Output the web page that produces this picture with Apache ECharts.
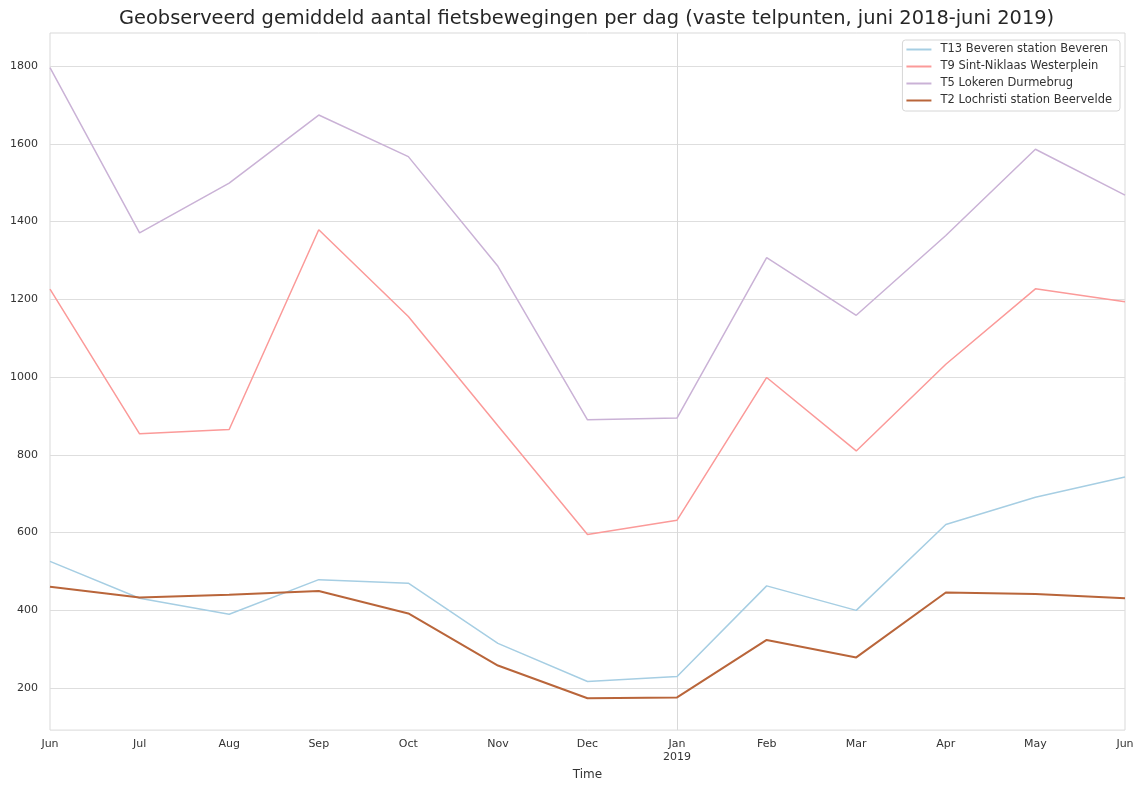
<!DOCTYPE html>
<html>
<head>
<meta charset="utf-8">
<title>fietsbewegingen</title>
<script src="https://cdn.jsdelivr.net/npm/echarts@6/dist/echarts.min.js"></script>
<style>
  html, body { margin: 0; padding: 0; background: #fff; }
  #main { width: 1137px; height: 786px; }
</style>
</head>
<body>
<div id="main"></div>
<script>
/* gemiddeld aantal fietsbewegingen per dag, juni 2018 - juni 2019 */
var months = ['Jun', 'Jul', 'Aug', 'Sep', 'Oct', 'Nov', 'Dec', 'Jan\n2019', 'Feb', 'Mar', 'Apr', 'May', 'Jun'];
var yTicks = [200, 400, 600, 800, 1000, 1200, 1400, 1600, 1800];

var t13 = [526, 431, 390, 479, 470, 315, 217, 230, 463, 400, 621, 691, 743];
var t9  = [1226, 854, 865, 1379, 1156, 875, 595, 632, 999, 810, 1033, 1227, 1194];
var t5  = [1796, 1371, 1499, 1674, 1567, 1285, 890, 895, 1307, 1159, 1364, 1586, 1468];
var t2  = [461, 433, 440, 450, 392, 258, 174, 176, 324, 279, 446, 442, 431];

var names = ['T13 Beveren station Beveren', 'T9 Sint-Niklaas Westerplein', 'T5 Lokeren Durmebrug', 'T2 Lochristi station Beervelde'];

(function(){
	var myChart = echarts.init(document.getElementById('main'));
	var font = 'DejaVu Sans';

	function line(name, data, color, width) {
		return {
			name: name,
			type: 'line',
			data: data,
			symbol: 'none',
			color: color,
			lineStyle: { color: color, width: width },
			emphasis: { disabled: true }
		};
	}

	var option = {
		animation: false,
		textStyle: { fontFamily: font },
		title: {
			text: 'Geobserveerd gemiddeld aantal fietsbewegingen per dag (vaste telpunten, juni 2018-juni 2019)',
			left: 119,
			top: 9,
			padding: 0,
			textStyle: { fontFamily: font, fontSize: 19.4, fontWeight: 'normal', color: '#262626' }
		},
		legend: {
			data: names,
			orient: 'vertical',
			right: 17,
			top: 40,
			icon: 'rect',
			itemWidth: 25,
			itemHeight: 2,
			itemGap: 4,
			padding: [3, 8, 4, 4],
			backgroundColor: '#fff',
			borderColor: '#d6d6d6',
			borderWidth: 1,
			borderRadius: 3,
			textStyle: { fontFamily: font, fontSize: 11.5, color: '#333', lineHeight: 13, padding: [0, 0, 0, 4] }
		},
		grid: {
			left: 50, right: 12, top: 33, bottom: 54,
			show: true,
			borderColor: '#d9d9d9',
			borderWidth: 1
		},
		xAxis: {
			type: 'category',
			data: months,
			boundaryGap: false,
			name: 'Time',
			nameLocation: 'middle',
			nameGap: 37,
			nameTextStyle: { fontFamily: font, fontSize: 12, color: '#333' },
			axisLine: { show: false },
			axisTick: { show: false },
			axisLabel: { color: '#333', fontSize: 11, margin: 8, lineHeight: 13, interval: 0 },
			splitLine: {
				show: true,
				interval: function (i) { return i === 7; },
				lineStyle: { color: '#d9d9d9', width: 1 }
			}
		},
		yAxis: {
			type: 'value',
			min: 92,
			max: 1885,
			axisLine: { show: false },
			axisTick: { show: false, customValues: yTicks },
			axisLabel: {
				color: '#333', fontSize: 11, margin: 12, customValues: yTicks,
				formatter: function (v) { return String(v); }
			},
			splitLine: { show: true, lineStyle: { color: '#dedede', width: 1.2 } }
		},
		series: [
			line(names[0], t13, '#a6cee3', 1.5),
			line(names[1], t9, '#fb9a99', 1.5),
			line(names[2], t5, '#cab2d6', 1.5),
			line(names[3], t2, '#b9653a', 2)
		]
	};
	myChart.setOption(option);
})();
</script>
</body>
</html>
